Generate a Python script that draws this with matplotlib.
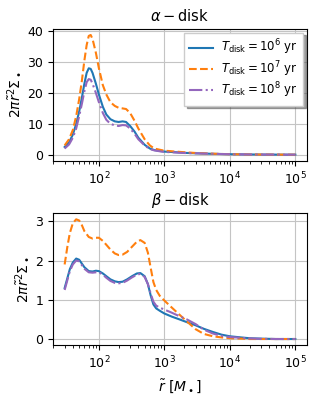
import matplotlib
matplotlib.use("Agg")
import matplotlib.pyplot as plt

# alpha-disk
r_a = [30, 35, 40, 45, 50, 55, 60, 65, 70, 75, 80, 90, 100, 115, 130, 150, 175, 200,
       230, 260, 300, 350, 400, 500, 600, 700, 850, 1000, 1500, 2000, 3000, 5000,
       1e4, 2e4, 5e4, 1e5]
a_1e6 = [2.5, 4, 6.5, 10, 14, 18.5, 23, 26.5, 28, 27.8, 26.5, 23, 19.5, 15.5, 13, 11.5, 10.8, 10.6,
         10.8, 10.6, 9.3, 7.5, 5.5, 3.2, 2.0, 1.5, 1.2, 1.0, 0.8, 0.6, 0.45, 0.3,
         0.15, 0.07, 0.02, 0.0]
a_1e7 = [3, 5, 8, 12.5, 18, 24, 30.5, 35.5, 38.5, 38.8, 37.5, 33, 28, 22.5, 19.5, 17, 15.8, 15.2,
         15.0, 14.8, 13.5, 11, 8.5, 5, 3, 2.0, 1.6, 1.3, 1.0, 0.8, 0.55, 0.35,
         0.15, 0.07, 0.02, 0.0]
a_1e8 = [2, 3.3, 5.5, 8.5, 12.5, 16.5, 20.5, 23.5, 24.5, 24.3, 23, 20, 17, 13.5, 11.3, 10, 9.5, 9.3,
         9.6, 9.5, 8.5, 6.8, 5, 3, 1.8, 1.4, 1.1, 0.9, 0.7, 0.55, 0.45, 0.3,
         0.15, 0.07, 0.02, 0.0]

# beta-disk
r_b = [30, 33, 36, 40, 45, 50, 55, 60, 70, 80, 90, 100, 115, 130, 150, 175, 200, 230,
       270, 320, 380, 430, 500, 560, 620, 680, 750, 850, 1000, 1300, 1700, 2200, 3000,
       4000, 5500, 7500, 1e4, 1.5e4, 2e4, 3e4, 5e4, 1e5]
b_1e6 = [1.3, 1.55, 1.78, 1.95, 2.05, 2.02, 1.92, 1.83, 1.73, 1.72, 1.74, 1.73, 1.67, 1.6, 1.52, 1.47, 1.45, 1.46,
         1.52, 1.6, 1.67, 1.68, 1.6, 1.4, 1.1, 0.88, 0.78, 0.72, 0.65, 0.57, 0.5, 0.43, 0.35,
         0.26, 0.18, 0.11, 0.07, 0.04, 0.02, 0.01, 0.0, 0.0]
b_1e7 = [1.9, 2.35, 2.7, 2.95, 3.05, 3.02, 2.9, 2.75, 2.6, 2.56, 2.58, 2.58, 2.5, 2.4, 2.28, 2.18, 2.14, 2.15,
         2.22, 2.35, 2.48, 2.52, 2.45, 2.2, 1.8, 1.45, 1.25, 1.1, 0.98, 0.8, 0.62, 0.45, 0.25,
         0.13, 0.07, 0.04, 0.02, 0.01, 0.0, 0.0, 0.0, 0.0]
b_1e8 = [1.25, 1.5, 1.73, 1.9, 2.0, 1.98, 1.88, 1.79, 1.7, 1.69, 1.7, 1.7, 1.64, 1.56, 1.48, 1.43, 1.42, 1.43,
         1.49, 1.57, 1.64, 1.66, 1.58, 1.4, 1.15, 0.95, 0.85, 0.8, 0.75, 0.67, 0.58, 0.5, 0.38,
         0.24, 0.14, 0.08, 0.05, 0.03, 0.015, 0.005, 0.0, 0.0]

labels = [r'$T_{\rm disk}=10^6$ yr', r'$T_{\rm disk}=10^7$ yr', r'$T_{\rm disk}=10^8$ yr']
styles = [('C0', '-'), ('C1', '--'), ('C4', '-.')]

fig, (ax1, ax2) = plt.subplots(2, 1, figsize=(3.2, 4.0), dpi=100)

for ys, lab, (c, ls) in zip([a_1e6, a_1e7, a_1e8], labels, styles):
    ax1.plot(r_a, ys, color=c, ls=ls, lw=1.5, label=lab)
for ys, lab, (c, ls) in zip([b_1e6, b_1e7, b_1e8], labels, styles):
    ax2.plot(r_b, ys, color=c, ls=ls, lw=1.5, label=lab)

for ax in (ax1, ax2):
    ax.set_xscale('log')
    ax.grid(True, color='#c4c4c4', lw=0.8)
    ax.tick_params(labelsize=9)
    ax.set_ylabel(r'$2\pi\tilde{r}^2\Sigma_\bullet$', fontsize=10)

ax1.set_title(r'$\alpha-$disk', fontsize=10.5)
ax2.set_title(r'$\beta-$disk', fontsize=10.5)
ax1.set_yticks([0, 10, 20, 30, 40])
ax2.set_yticks([0, 1, 2, 3])
ax2.set_xlabel(r'$\tilde{r}\ [M_\bullet]$', fontsize=10)
ax1.legend(loc='upper right', shadow=True, fancybox=False, fontsize=8.5,
           labelspacing=0.15, borderpad=0.45, handletextpad=0.7, borderaxespad=0.3)

fig.subplots_adjust(left=0.166, right=0.959, top=0.9275, bottom=0.1375, hspace=0.40)
fig.savefig('out.png', dpi=100)
